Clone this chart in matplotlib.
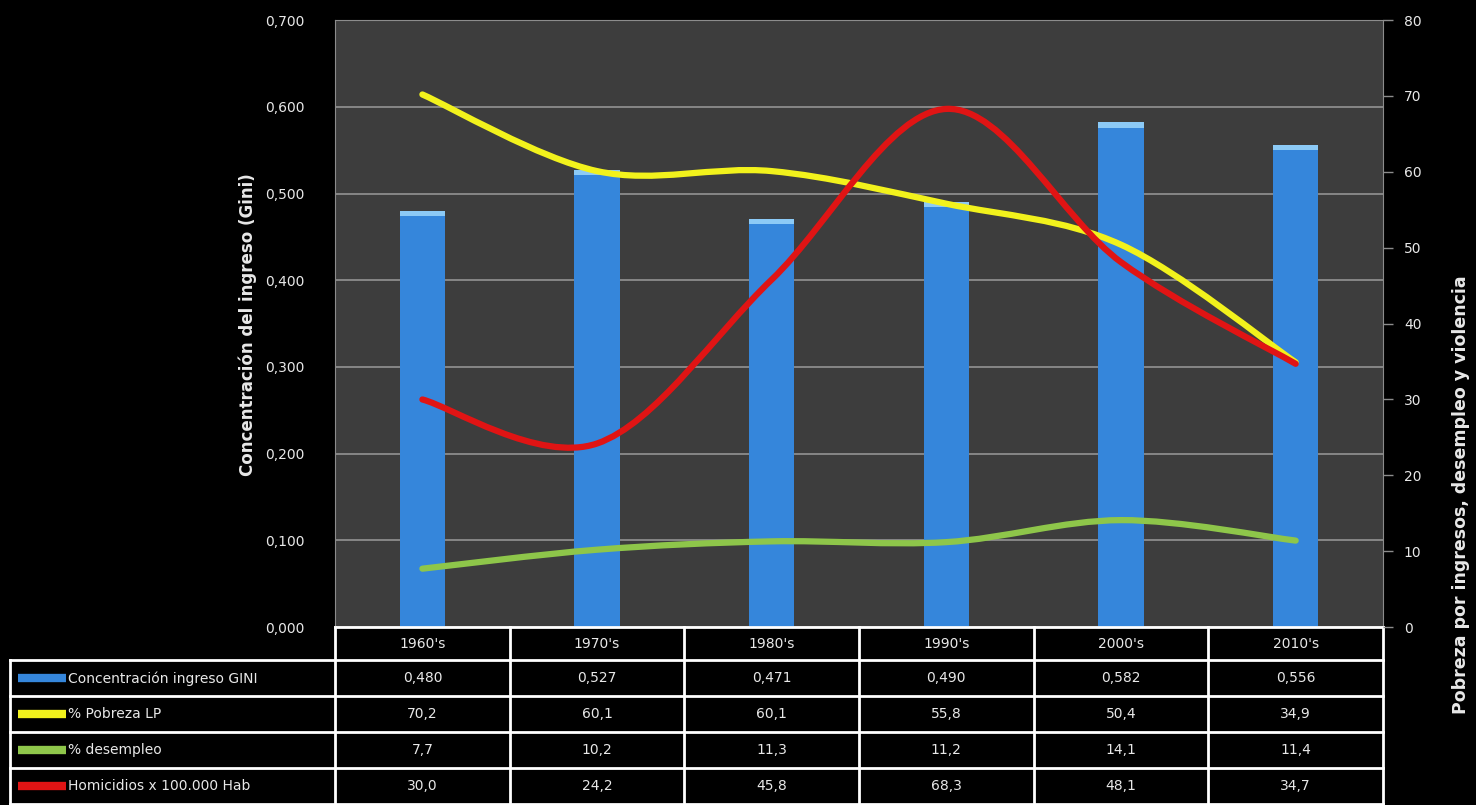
import matplotlib
matplotlib.use('Agg')
import matplotlib.pyplot as plt
import matplotlib.transforms as mtransforms
from matplotlib.path import Path
from matplotlib.patches import PathPatch
from matplotlib.lines import Line2D

plt.rcParams['font.family'] = ['DejaVu Sans']

decadas = ["1960's", "1970's", "1980's", "1990's", "2000's", "2010's"]
gini = [0.480, 0.527, 0.471, 0.490, 0.582, 0.556]
pobreza = [70.2, 60.1, 60.1, 55.8, 50.4, 34.9]
desempleo = [7.7, 10.2, 11.3, 11.2, 14.1, 11.4]
homicidios = [30.0, 24.2, 45.8, 68.3, 48.1, 34.7]

etiquetas = ['Concentración ingreso GINI', '% Pobreza LP', '% desempleo', 'Homicidios x 100.000 Hab']
left_ticks = [0.0, 0.1, 0.2, 0.3, 0.4, 0.5, 0.6, 0.7]
right_ticks = [0, 10, 20, 30, 40, 50, 60, 70, 80]

c_bar = '#3586db'
c_cap = '#8ccaf6'
c_yel = '#f2f21c'
c_grn = '#8ec64a'
c_red = '#e01414'
c_txt = '#e8e8e8'


def smooth_path(xs, ys):
    # excel style smoothed line (bezier through the points)
    n = len(xs)
    pts = list(zip(xs, ys))
    verts = [pts[0]]
    codes = [Path.MOVETO]
    for i in range(n - 1):
        p0 = pts[i - 1] if i > 0 else pts[i]
        p1 = pts[i]
        p2 = pts[i + 1]
        p3 = pts[i + 2] if i + 2 < n else pts[i + 1]
        c1 = (p1[0] + (p2[0] - p0[0]) / 6, p1[1] + (p2[1] - p0[1]) / 6)
        c2 = (p2[0] - (p3[0] - p1[0]) / 6, p2[1] - (p3[1] - p1[1]) / 6)
        verts += [c1, c2, p2]
        codes += [Path.CURVE4] * 3
    return Path(verts, codes)


fig = plt.figure(figsize=(14.76, 8.05), dpi=100, facecolor='black')
ax = fig.add_axes([0.227, 0.221, 0.710, 0.754])
ax.set_facecolor('#3d3d3d')
x = list(range(len(decadas)))

ax.bar(x, gini, width=0.26, color=c_bar, zorder=2)
ax.bar(x, [0.006] * len(gini), bottom=[g - 0.006 for g in gini], width=0.26, color=c_cap, zorder=3)

ax.set_xlim(-0.5, 5.5)
ax.set_ylim(0, 0.7)
ax.set_yticks(left_ticks)
ax.set_yticklabels(['{:.3f}'.format(v).replace('.', ',') for v in left_ticks])
ax.tick_params(axis='y', length=0, pad=22, colors=c_txt, labelsize=10)
ax.set_xticks([])
ax.grid(axis='y', color='#8c8c8c', lw=1.3, zorder=1)
ax.set_axisbelow(True)
for s in ['left', 'top', 'right']:
    ax.spines[s].set_color('#8c8c8c')
ax.spines['bottom'].set_color('white')
ax.spines['bottom'].set_linewidth(2)

ax2 = ax.twinx()
ax2.set_ylim(0, 80)
ax2.set_yticks(right_ticks)
ax2.tick_params(axis='y', length=7, width=1, pad=8, colors=c_txt, labelsize=10)
ax2.tick_params(axis='y', color='#8c8c8c')
for s in ax2.spines.values():
    s.set_visible(False)

for serie, col in [(desempleo, c_grn), (pobreza, c_yel), (homicidios, c_red)]:
    ax2.add_patch(PathPatch(smooth_path(x, serie), facecolor='none', edgecolor=col,
                            lw=4.5, capstyle='round', zorder=4))

fig.text(0.168, 0.597, 'Concentración del ingreso (Gini)', rotation=90, color=c_txt,
         fontsize=12, fontweight='bold', ha='center', va='center')
fig.text(0.990, 0.385, 'Pobreza por ingresos, desempleo y violencia', rotation=90, color=c_txt,
         fontsize=12.5, fontweight='bold', ha='center', va='center')

# data table under the plot
tr = mtransforms.blended_transform_factory(ax.transData, ax.transAxes)
head_h = 0.055
row_h = 0.059
lab_left = -0.310
bottom = -head_h - row_h * len(etiquetas)
lw_t = 2

for b in [i - 0.5 for i in range(len(decadas) + 1)]:
    ax.add_line(Line2D([b, b], [0, bottom], transform=tr, color='white', lw=lw_t, clip_on=False))
for r in range(len(etiquetas) + 1):
    yy = -head_h - row_h * r
    ax.add_line(Line2D([lab_left, 1], [yy, yy], transform=ax.transAxes, color='white', lw=lw_t, clip_on=False))
ax.add_line(Line2D([lab_left, lab_left], [-head_h, bottom], transform=ax.transAxes, color='white', lw=lw_t, clip_on=False))

for i, d in enumerate(decadas):
    ax.text(i, -head_h / 2, d, transform=tr, color=c_txt, fontsize=10, ha='center', va='center')

filas = [
    ['{:.3f}'.format(v).replace('.', ',') for v in gini],
    ['{:.1f}'.format(v).replace('.', ',') for v in pobreza],
    ['{:.1f}'.format(v).replace('.', ',') for v in desempleo],
    ['{:.1f}'.format(v).replace('.', ',') for v in homicidios],
]
colores = [c_bar, c_yel, c_grn, c_red]
for r, (lab, fila, col) in enumerate(zip(etiquetas, filas, colores)):
    yc = -head_h - row_h * (r + 0.5)
    ax.add_line(Line2D([-0.303, -0.257], [yc, yc], transform=ax.transAxes, color=col,
                       lw=6, solid_capstyle='butt', clip_on=False))
    ax.text(-0.255, yc, lab, transform=ax.transAxes, color=c_txt, fontsize=10, ha='left', va='center')
    for i, v in enumerate(fila):
        ax.text(i, yc, v, transform=tr, color=c_txt, fontsize=10, ha='center', va='center')

fig.savefig('out.png', dpi=100, facecolor='black')
